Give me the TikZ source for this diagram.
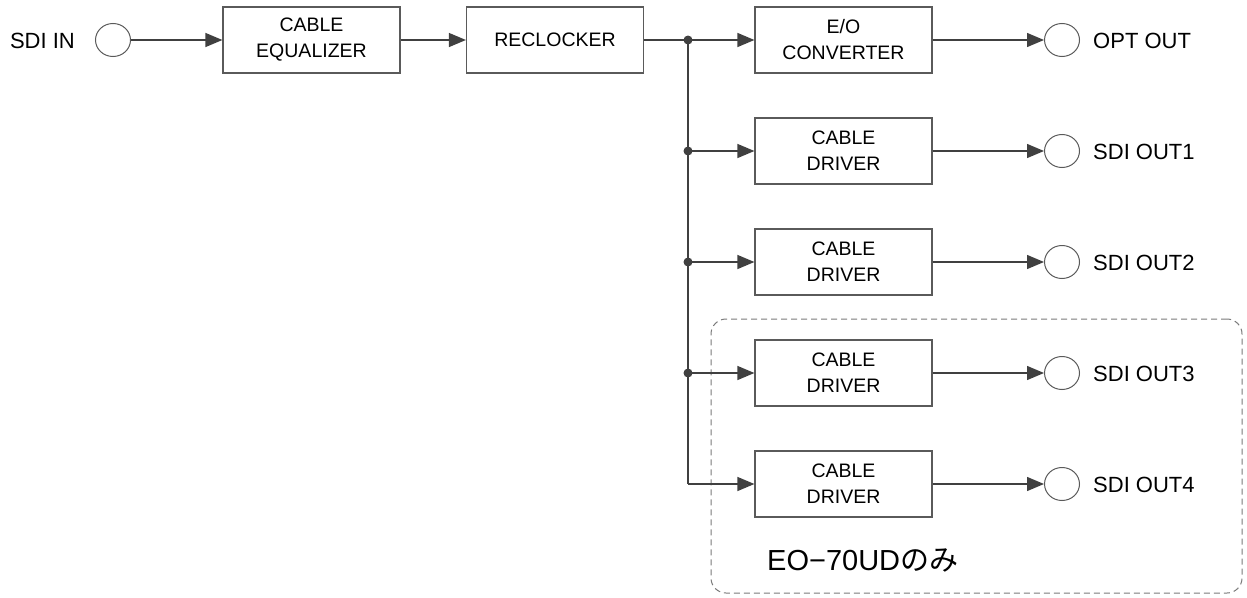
\documentclass[tikz,border=0pt]{standalone}
\usepackage{fontspec}
\setmainfont{Liberation Sans}
\newfontfamily\jpfont{Noto Sans CJK JP}
\usetikzlibrary{arrows.meta,shapes.geometric}
\definecolor{linegray}{HTML}{404040}
\definecolor{boxgray}{HTML}{5A5A5A}
\definecolor{dashgray}{HTML}{7A7A7A}
\begin{document}
\begin{tikzpicture}[x=1pt,y=-1pt,
  blk/.style={draw=boxgray, line width=1.2pt, minimum width=177pt, minimum height=66pt, inner sep=0pt, align=center, font=\fontsize{19.5}{26}\selectfont},
  port/.style={ellipse, draw=boxgray, line width=1pt, minimum width=35pt, minimum height=33pt, inner sep=0pt},
  lbl/.style={font=\fontsize{22}{26}\selectfont, inner sep=0pt},
  conn/.style={draw=linegray, line width=1.3pt},
  arr/.style={conn, -{Triangle[length=17pt,width=14pt]}},
  jdot/.style={circle, fill=linegray, minimum size=9pt, inner sep=0pt},
  grpbox/.style={draw=dashgray, line width=1pt, dash pattern=on 6pt off 4pt, rounded corners=15pt, minimum width=531pt, minimum height=274pt, inner sep=0pt}
]
\useasboundingbox (0,0) rectangle (1247,597);

\node[grpbox] (grp) at (976.5,456) {};

\node[lbl, anchor=east] (sdiin) at (75,41) {SDI IN};
\node[port] (pin) at (113,40) {};
\node[blk] (eq) at (311.5,40) {CABLE\\EQUALIZER};
\node[blk] (rc) at (555,40) {RECLOCKER};
\node[blk] (eo) at (843.5,40) {E/O\\CONVERTER};
\node[port] (pout) at (1062,40) {};
\node[lbl, anchor=west] (optout) at (1093,41) {OPT OUT};

\coordinate (j0) at (688,40);
\foreach \i/\row in {1/151,2/262,3/373,4/484}{
  \coordinate (j\i) at (688,\row);
  \node[blk] (cd\i) at (843.5,\row) {CABLE\\DRIVER};
  \node[port] (po\i) at (1062,\row) {};
  \node[lbl, anchor=west] (so\i) at (1093,\row+1) {SDI OUT\i};
}

\draw[arr] (pin) -- (eq);
\draw[arr] (eq) -- (rc);
\draw[conn] (rc.east) -- (j0);
\draw[arr] (j0) -- (eo);
\draw[arr] (eo) -- (pout);
\draw[conn] (j0) -- (j4);
\foreach \i in {1,2,3,4}{
  \draw[arr] (j\i) -- (cd\i.west);
  \draw[arr] (cd\i) -- (po\i);
}
\foreach \i in {0,1,2,3}{
  \node[jdot] (d\i) at (j\i) {};
}

\node[anchor=base west, inner sep=0pt, font=\fontsize{29}{34}\selectfont] (note) at (767,570) {EO−70UD{\jpfont のみ}};
\end{tikzpicture}
\end{document}
